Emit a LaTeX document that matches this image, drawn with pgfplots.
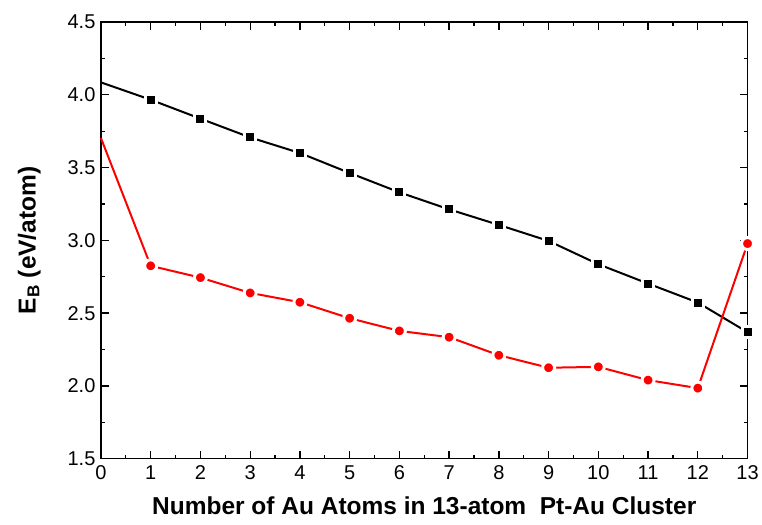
\documentclass[border=0pt]{standalone}
\usepackage{pgfplots}
\pgfplotsset{compat=1.18}
\usepackage{fontspec}
\setmainfont{Liberation Sans}
\begin{document}
\begin{tikzpicture}
\begin{axis}[
  scale only axis, width=647pt, height=437pt,
  xmin=0, xmax=13, ymin=1.5, ymax=4.5,
  xtick={0,...,13}, ytick={1.5,2.0,...,4.5},
  minor x tick num=1, minor y tick num=1,
  tick align=inside, major tick length=8pt, minor tick length=4pt,
  tick style={black, line width=1.3pt},
  axis line style={line width=1.5pt},
  tick label style={font=\fontsize{20}{20}\selectfont},
  /pgf/number format/assume math mode=true,
  yticklabel style={xshift=-2pt, /pgf/number format/.cd, fixed, fixed zerofill, precision=1},
  xticklabel style={yshift=-3pt},
  xlabel={\bfseries Number of Au Atoms in 13-atom\ \ Pt-Au Cluster},
  ylabel={\bfseries E\textsubscript{B} (eV/atom)},
  label style={font=\fontsize{24.5}{24.5}\selectfont},
  xlabel style={yshift=-10pt},
  ylabel style={yshift=20pt},
  clip=false,
]
\addplot[black, line width=2pt, mark=square*, mark size=5.5pt,
  mark indices={2,...,14}, mark options={fill=black, draw=white, line width=3pt}]
  coordinates {(0,4.085)(1,3.966)(2,3.836)(3,3.707)(4,3.600)(5,3.463)(6,3.330)
  (7,3.213)(8,3.106)(9,2.996)(10,2.836)(11,2.703)(12,2.573)(13,2.369)};
\addplot[red, line width=2pt, mark=*, mark size=6pt,
  mark indices={2,...,14}, mark options={fill=red, draw=white, line width=3pt}]
  coordinates {(0,3.703)(1,2.825)(2,2.744)(3,2.639)(4,2.575)(5,2.465)(6,2.378)
  (7,2.335)(8,2.211)(9,2.125)(10,2.131)(11,2.040)(12,1.985)(13,2.978)};
\end{axis}
\path (current axis.south west) ++(-101pt,-66pt) (current axis.north east) ++(14pt,22pt);
\end{tikzpicture}
\end{document}
